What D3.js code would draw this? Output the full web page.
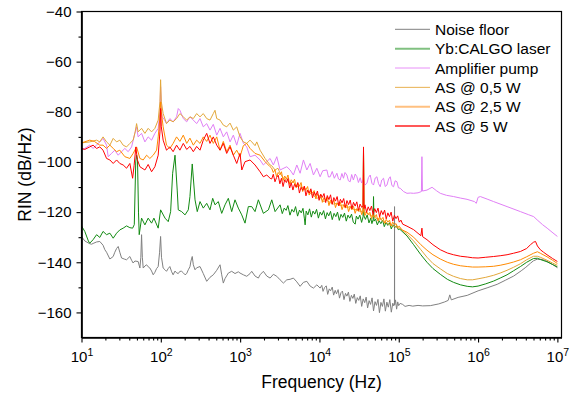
<!DOCTYPE html>
<html><head><meta charset="utf-8">
<script src="https://cdn.jsdelivr.net/npm/d3@7"></script>
<style>body{margin:0;background:#fff}svg{display:block}text{font-family:"Liberation Sans",Arial,sans-serif}</style>
</head><body><svg id="c" width="582" height="397"></svg>
<script>
// ---- DATA (frequency Hz, RIN dB/Hz) ----
const seriesNames = ["Noise floor","Yb:CALGO laser","Amplifier pump","AS @ 0,5 W","AS @ 2,5 W","AS @ 5 W"];
const seriesColors = ["#808080","#128a12","#e07ff5","#e2a73a","#ff8a00","#ff0000"];
const legendColors = ["#808080","#80c080","#e890f8","#e8b050","#ffc080","#ff2020"];
const legendWidths = [1,2,1,1,2,1.5];
const yTicks = [-160,-140,-120,-100,-80,-60,-40];
const yMinorTicks = [-150,-130,-110,-90,-70,-50];
const xTickExps = [1,2,3,4,5,6,7];

const noiseFloor = [[10,-129.7],[11,-131.5],[12.7,-132.6],[13.4,-132.8],[14,-132.5],[15.5,-131.9],[17,-131.7],[18.7,-133.2],[19.7,-135],[20.7,-136],[22.8,-138.7],[25.1,-137.7],[26.3,-136],[27.7,-134.5],[29,-133.7],[30.4,-136],[32,-138.3],[35.2,-138.8],[37,-139],[40.7,-137.7],[42.8,-139.2],[44.8,-140.3],[47.1,-139.5],[51.8,-139.7],[54.5,-142.3],[56,-138],[57.2,-129],[58.5,-138],[60,-142.3],[63,-141.5],[66.2,-141],[69.3,-141.8],[72.8,-142.3],[76.5,-143.5],[80.2,-145],[84.2,-144],[88.5,-142.5],[92.7,-141.7],[96.5,-136],[99.4,-129.7],[102,-138],[107,-142.3],[113,-143],[118,-143.6],[124,-142.5],[130,-141.7],[137,-143.8],[143,-145],[151,-143.5],[158,-144.2],[166,-144.5],[174,-143.6],[183,-143.6],[192,-144.2],[202,-145],[212,-144.5],[222,-143],[233,-141.8],[240,-139.5],[249,-137.7],[257,-141],[270,-143],[283,-142.2],[312,-141.7],[343,-144.5],[379,-147.6],[417,-146],[459,-145],[507,-143.2],[558,-141],[586,-145],[614,-148.3],[645,-146.5],[710,-144.3],[783,-143.6],[862,-144.5],[949,-143.8],[997,-144.3],[1098,-145],[1212,-145.6],[1334,-144.5],[1401,-143.6],[1542,-145.5],[1698,-146.3],[1784,-145],[1963,-143.6],[2168,-145.5],[2386,-146.3],[2626,-144.8],[2899,-145.6],[3190,-147],[3512,-148.3],[3876,-147],[4267,-146.8],[4696,-146.3],[5183,-147.8],[5706,-149.6],[6281,-148],[6934,-147.6],[7631,-149.5],[8401,-150.3],[9273,-149],
[10200,-150.3],[10700,-149.2],[11100,-151.6],[11600,-150.1],[12200,-149.4],[12700,-152.8],[13300,-150.6],[13800,-151.4],[14500,-149.9],[15100,-153.1],[15800,-151.2],[16400,-152.6],[17200,-150.9],[17900,-154.3],[18700,-152.1],[19500,-151.5],[20400,-154.9],[21300,-152.4],[22200,-153.5],[23200,-151.9],[24200,-155.6],[25300,-153.2],[26400,-154.4],[27500,-152.7],[28700,-156.4],[30000,-154.1],[31300,-155.2],[32700,-153.4],[34100,-157.6],[35600,-154.6],[37200,-156.1],[38800,-153.9],[40500,-158.2],[42300,-155.3],[44100,-156.8],[46100,-154.2],[48100,-159.4],[50200,-155.7],[52400,-157.2],[54700,-154.8],[57100,-160.1],[59600,-156],[62200,-157.6],[65000,-154.6],[67800,-159.5],[70800,-155.9],[73900,-157.9],[77200,-154.9],[80600,-159.9],[84100,-156.3],[86500,-157.4],[88300,-156.5],[88500,-117.8],[88700,-157],[91000,-155],[94000,-158.7],[97000,-155.8],[99700,-157.3],[104000,-156.4],[112000,-156.8],[120000,-157.6],[135000,-157.2],[150000,-157.5],[175000,-157.2],[200000,-157.4],[250000,-157.3],[320000,-156.6],[380000,-155.8],[420000,-155.2],[440000,-153],[460000,-155],[560000,-154],[730000,-153.2],[1000000,-151.4],[1300000,-150.2],[1740000,-148.8],[2200000,-147.2],[2810000,-145.5],[3500000,-143.4],[4000000,-142],[4570000,-140.4],[5000000,-139.4],[5560000,-138.8],[6200000,-138.8],[7080000,-139.3],[8200000,-140.4],[9000000,-141.2],[10000000,-142.2]];

const ybCalgo = [[10,-125.5],[11,-127.7],[12.2,-131.5],[12.7,-132.4],[14,-131],[15.5,-129],[17,-130.1],[18.7,-127.7],[20.7,-129],[22.8,-128.4],[25.1,-130.4],[27.7,-128.4],[30.4,-127.1],[33.5,-126.4],[37,-125.5],[40.7,-126.2],[44.1,-126.4],[46.3,-125],[48.3,-100],[49.5,-97.3],[50.8,-99],[52.3,-120],[53.4,-129],[57.2,-122.4],[63,-125.1],[69.3,-122.4],[76.5,-124.4],[81.8,-122.4],[92.7,-126.4],[99.4,-119.1],[113,-122.4],[124,-123.8],[133,-119.8],[141,-104.5],[151,-97.3],[161,-111.2],[166,-119.1],[183,-119.8],[202,-121.1],[222,-119.1],[233,-113.8],[249,-100.8],[270,-115.1],[288,-119.8],[312,-115.8],[343,-118.4],[379,-116.5],[417,-119.1],[451,-114.5],[482,-117.1],[531,-115.8],[586,-120.5],[645,-117.1],[710,-114.5],[783,-119.8],[862,-115.1],[949,-118.4],[1048,-121.1],[1153,-124.4],[1269,-117.8],[1401,-117.8],[1542,-119.8],[1698,-115.1],[1963,-120.5],[2271,-119.1],[2506,-115.1],[2759,-119.8],[3190,-117.1],[3400,-120.6],[3600,-118.4],[3800,-119.3],[4000,-117.4],[4250,-121.2],[4500,-118.9],[4750,-120],[5000,-117.8],[5300,-121.6],[5600,-119.2],[5900,-120.3],[6200,-118.5],[6450,-122.4],[6600,-125.1],[6800,-119.6],[7150,-121.1],[7500,-118.7],[7900,-122],[8300,-119.6],[8750,-120.8],[9200,-118.9],[9700,-122.4],[10200,-120],[10700,-121.2],[11300,-119.4],[11900,-122.7],[12500,-120.2],[13100,-121.5],[13800,-119.7],[14500,-123],[15300,-120.5],[16100,-121.8],[16900,-120],[17800,-123.3],[18700,-120.9],[19700,-122.1],[20700,-120.4],[21800,-123.6],[22900,-121.2],[24100,-122.4],[25400,-120.8],[26700,-124],[28240,-124.8],[29200,-121.6],[30700,-122.8],[32300,-121.2],[34000,-124.1],[35500,-121.8],[35940,-95.3],[36400,-121.5],[38000,-122.9],[40000,-121.1],[42100,-124.3],[44300,-122.4],[45870,-124.6],[47500,-123],[48070,-113.8],[48700,-123.6],[51000,-122.8],[53700,-125.1],[56500,-123.4],[59400,-124.6],[62500,-123.2],[65700,-125.8],[69100,-124.1],[72700,-125.3],[76500,-124.2],[80500,-126.7],[84700,-125],[89100,-126.1],[93700,-125.4],[98600,-127],[103000,-126.8],[127000,-129.5],[154000,-133],[190000,-137],[227000,-140],[270000,-142.5],[334000,-144.8],[410000,-146.8],[490000,-148],[600000,-149],[730000,-149.6],[850000,-149.8],[1000000,-149.5],[1250000,-148.6],[1570000,-147.5],[1900000,-146.3],[2320000,-145],[2800000,-143.4],[3420000,-141.7],[4100000,-140],[5000000,-138.5],[5600000,-138.4],[6100000,-138.9],[7400000,-139.8],[8700000,-140.9],[10000000,-141.8]];

const ampPump = [[10,-95.3],[11,-94.6],[12.7,-93.3],[14,-94.6],[15.5,-93.3],[17,-92],[18.7,-90.6],[20.7,-93.3],[21.7,-97.9],[23.9,-96.6],[26.3,-95.3],[29,-97.3],[32,-95.9],[35.2,-94.6],[38.8,-95.9],[42.8,-94],[47.1,-88.6],[49.5,-86],[51.8,-90],[57.2,-88.6],[63,-92],[69.3,-90],[76.5,-91.3],[84.2,-88.6],[92.7,-86.6],[97.5,-80],[99.4,-70],[101.5,-79],[104,-82],[110,-83],[118,-84.7],[130,-82.7],[143,-84],[158,-82],[166,-78.7],[174,-79.4],[192,-82.7],[212,-84],[233,-82],[257,-83.3],[283,-84.7],[312,-82.7],[343,-86],[379,-84.7],[417,-87.3],[459,-85],[507,-89.3],[558,-86.6],[614,-90],[677,-88],[746,-92],[821,-89.3],[906,-93.3],[997,-88.6],[1098,-92.5],[1212,-94],[1334,-97.9],[1542,-97.3],[1784,-99.2],[1963,-101.2],[2386,-98.6],[2626,-101.2],[2899,-97.9],[3190,-103.2],[3876,-101.9],[4267,-103.2],[4696,-105.2],[5183,-101.2],[5706,-104.5],[6281,-99.2],[6934,-103.2],[7631,-100.6],[8401,-105.2],[9273,-102.5],[10204,-105.9],[11000,-103.5],[12400,-103.2],[13000,-106],[13650,-105.9],[14500,-103.8],[15400,-106.5],[16590,-104.5],[17400,-106.8],[18260,-107.2],[19200,-104.6],[20090,-106.5],[21000,-104.2],[22180,-105.2],[23200,-107.5],[24410,-107.9],[25500,-105],[26800,-107.2],[28240,-104.8],[29670,-105.9],[31000,-108.2],[32660,-106.3],[34000,-108.4],[35940,-106.8],[37500,-109.2],[39670,-108.5],[41500,-106.2],[43680,-105.2],[45870,-108.5],[48070,-109.2],[50500,-106.4],[53060,-105.9],[55500,-108.6],[58410,-109.9],[61000,-107.2],[64300,-106.5],[67500,-109.8],[70960,-109.2],[74500,-106.8],[78100,-105.9],[82000,-109.4],[85990,-109.9],[90000,-107.5],[94910,-107.9],[99000,-110.3],[104400,-110.5],[115000,-111.8],[126900,-112.5],[140000,-112.4],[154000,-112.5],[175000,-112.3],[193000,-111.8],[196000,-97.9],[199000,-111.6],[227000,-111.2],[263000,-110.1],[300000,-111.5],[334000,-112.5],[400000,-113.3],[492000,-113.8],[600000,-114.4],[726000,-114.9],[900000,-115.8],[950000,-116.5],[1000000,-114.1],[1070000,-113.8],[1300000,-114.8],[1570000,-115.8],[2320000,-117.8],[3420000,-119.8],[4300000,-121],[5030000,-121.8],[5560000,-123.1],[6500000,-125],[7430000,-126.4],[8800000,-128.3],[10000000,-129.7]];

const as05W = [[10,-92.4],[12.7,-92],[15.5,-91.3],[17,-92],[18.7,-90],[20.7,-92],[22.8,-93.3],[25.1,-90.6],[27.7,-92],[30.4,-91.3],[33.5,-93.3],[37,-94],[40.7,-92.6],[44.8,-91.3],[47.5,-88],[49.5,-84.7],[51.8,-88],[57.2,-86.6],[63,-88.6],[69.3,-86.6],[76.5,-88],[84.2,-86.6],[92.7,-83.3],[97.5,-76],[99.4,-67.2],[101.5,-76],[107,-80.7],[118,-84.7],[130,-83.3],[143,-84],[158,-82.7],[174,-80.7],[192,-82],[212,-83.3],[233,-82],[257,-82.7],[283,-80.7],[312,-82],[343,-80.7],[379,-82.7],[417,-83.3],[459,-80.7],[482,-79.4],[507,-82.7],[558,-83.3],[614,-85.3],[677,-86],[746,-84.5],[821,-87.3],[906,-86],[997,-90],[1098,-92],[1212,-92.6],[1334,-91.3],[1401,-92],[1542,-93.5],[1621,-92],[1784,-95.3],[2063,-98.6],[2386,-101.2],[2500,-101.5],[2759,-103.2],[3000,-102.5],[3190,-104.5],[3512,-106.5],[3876,-107.2],[4267,-108.5],[4700,-108],[5183,-109.9],[5706,-109.5],[6281,-110.5],[6900,-111.6],[7631,-112.5],[8400,-113.3],[9273,-114.5],[10200,-114],[11230,-115.8],[12400,-115.3],[13650,-116.2],[15000,-116.8],[16590,-116.5],[18300,-117.4],[20090,-117.1],[22200,-118.2],[24410,-117.8],[27000,-118.9],[29670,-119.1],[33000,-119.8],[35500,-119.5],[35940,-96],[36400,-119.8],[39670,-120.3],[43700,-121.3],[48070,-121.8],[53000,-122.6],[58410,-122.8],[64300,-123.8],[70960,-124.4],[78100,-125.2],[85990,-125.5],[95000,-126.2],[104400,-126.5],[127000,-128.8],[154000,-131.5],[190000,-135],[227000,-138],[270000,-140.5],[334000,-142.6],[410000,-144.5],[490000,-145.6],[600000,-146.5],[730000,-147],[850000,-147],[1000000,-146.6],[1250000,-146],[1570000,-145.2],[1900000,-144.3],[2320000,-143.2],[2800000,-142],[3420000,-140.6],[4100000,-139],[5000000,-137.6],[5600000,-137.6],[6100000,-138],[7400000,-139.2],[8700000,-140.3],[10000000,-141.2]];

const as25W = [[10,-92.4],[12.7,-91.3],[14.5,-91.8],[17,-93.3],[18.7,-93.3],[20.7,-94.6],[22.8,-93.3],[25.1,-94.6],[27.7,-95.9],[30.4,-95.3],[35.2,-97.9],[40.7,-98.6],[44.8,-96.6],[49.5,-94],[54.5,-98.6],[60,-99.2],[66.2,-97.3],[72.8,-98.6],[80.2,-97.3],[88.5,-95.3],[92.7,-90],[97.5,-82],[99.4,-76],[101.5,-80],[107,-86],[118,-93.3],[130,-94.6],[143,-92.6],[158,-90],[174,-91.8],[192,-89.3],[212,-92.6],[233,-90.5],[257,-93.3],[283,-91.3],[312,-92.6],[343,-90],[379,-91.8],[417,-89.3],[459,-92.6],[507,-90],[558,-95.3],[614,-91.8],[677,-95.9],[746,-93.3],[821,-97.3],[906,-95.3],[997,-97.9],[1098,-93.5],[1212,-92.6],[1334,-94.6],[1542,-96.6],[1784,-97.3],[2063,-99.9],[2386,-101.9],[2500,-102.5],[2620,-104.2],[2750,-103.1],[2880,-105.9],[3020,-104.2],[3170,-105.1],[3320,-103.9],[3480,-107.4],[3650,-105.6],[3830,-106.8],[4010,-105.2],[4210,-108.9],[4410,-107.1],[4630,-108.2],[4850,-106.9],[5090,-110.3],[5330,-108.4],[5590,-109.6],[5870,-108.2],[6150,-111.8],[6450,-110],[6760,-111.1],[7090,-109.8],[7430,-113.2],[7800,-111.3],[8180,-112.5],[8580,-111.4],[9000,-114.7],[9440,-112.7],[9900,-113.9],[10380,-112.9],[10890,-116.1],[11420,-114.2],[11980,-115.3],[12560,-114],[13170,-117.4],[13810,-115.3],[14490,-116.5],[15190,-115.2],[15930,-118.2],[16710,-116.3],[17520,-117.5],[18380,-116.1],[19270,-119],[20210,-117.1],[21200,-118.4],[22230,-117],[23310,-119.8],[24450,-117.8],[25640,-119.1],[26890,-117.7],[28200,-120.5],[29580,-118.6],[31020,-119.7],[32530,-118.4],[34120,-121],[35500,-119.5],[35940,-95.9],[36400,-119.8],[37500,-121.3],[39300,-119.9],[41200,-121],[43200,-120.1],[45300,-122.6],[47500,-120.8],[49800,-122],[52200,-121],[54800,-123.6],[57400,-121.9],[60200,-123],[63200,-122.1],[66300,-124.5],[69500,-122.9],[72900,-124],[76400,-123.2],[80100,-125.4],[84000,-124],[88100,-125],[92400,-124.6],[96900,-126.1],[101600,-125.6],[106500,-126.6],[112000,-127.2],[127000,-128],[154000,-130],[190000,-133],[227000,-135.2],[270000,-137],[334000,-138.7],[410000,-140],[490000,-140.8],[600000,-141.4],[730000,-141.7],[850000,-141.9],[1000000,-141.9],[1250000,-141.8],[1570000,-141.6],[1900000,-141.2],[2320000,-140.6],[2800000,-139.9],[3420000,-139],[4100000,-137.8],[5000000,-136.4],[5600000,-135.8],[6100000,-136.4],[7400000,-137.8],[8700000,-139.2],[10000000,-140.5]];

const as5W = [[10,-94.6],[11,-95],[12.7,-94],[14,-93.3],[15.5,-94.6],[17,-94],[18.7,-95.3],[20.7,-98.6],[22.8,-99.2],[25.1,-100.6],[27.7,-99.2],[30.4,-100.6],[33.5,-101.2],[37,-102.5],[40.7,-100.6],[44.1,-106.5],[46,-101.5],[48.5,-94],[50.5,-99],[54.5,-101.9],[63,-103.2],[69.3,-101],[76.5,-103.9],[84.2,-101.9],[92.7,-97.3],[97.5,-88],[99.4,-78.7],[101.5,-86],[107,-91.3],[118,-95.3],[130,-94],[143,-95.9],[158,-93.3],[174,-95.3],[192,-92.6],[212,-95],[233,-93.8],[257,-95.9],[283,-93.8],[312,-95.3],[343,-91.3],[379,-88.6],[417,-92.6],[459,-90],[507,-93.3],[558,-95.3],[614,-92.6],[677,-96.6],[746,-94],[821,-97.3],[906,-100.6],[997,-96.6],[1050,-103.2],[1153,-99.9],[1334,-99.2],[1542,-101.2],[1784,-103.9],[1963,-105.9],[2168,-105.2],[2386,-106.5],[2500,-106.8],[2620,-104.9],[2750,-107.9],[2880,-106.2],[3020,-105.3],[3170,-108.7],[3320,-106.5],[3480,-109.8],[3650,-107.1],[3830,-108.2],[4010,-106.6],[4210,-110.4],[4410,-108.3],[4630,-111.2],[4850,-108.9],[5090,-110],[5330,-108.2],[5590,-112.4],[5870,-110.1],[6150,-111.3],[6450,-109.6],[6760,-113.5],[7090,-111.2],[7430,-112.4],[7800,-110.7],[8180,-114.3],[8580,-112],[9000,-113.4],[9440,-111.6],[9900,-115.3],[10380,-112.9],[10890,-114.1],[11420,-112.6],[11980,-116.2],[12560,-113.4],[13170,-115],[13810,-113.1],[14490,-116.9],[15190,-114.2],[15930,-115.6],[16710,-113.8],[17520,-117.4],[18380,-114.9],[19270,-116.3],[20210,-114.6],[21200,-118.1],[22230,-115.4],[23310,-117],[24450,-115.2],[25640,-118.7],[26890,-116.1],[28200,-117.6],[29580,-115.9],[31020,-119.3],[32530,-116.8],[34120,-118.1],[35500,-117.4],[35940,-94],[36400,-118.6],[37500,-117.1],[39300,-120.1],[41200,-117.9],[43200,-119.4],[45300,-117.6],[47500,-121],[49800,-118.6],[52200,-120.2],[54800,-118.4],[57400,-121.9],[60200,-119.4],[63200,-121],[66300,-119.2],[69500,-122.7],[72900,-120.3],[76400,-121.8],[80100,-120],[84000,-123.6],[88100,-121.3],[92400,-122.6],[96900,-121.5],[101600,-124],[106500,-123.2],[112000,-124.8],[127000,-125.6],[154000,-127],[190000,-129.4],[196000,-126.4],[200000,-129.8],[227000,-131],[270000,-133],[334000,-135],[410000,-136.3],[490000,-137],[600000,-137.6],[730000,-137.9],[850000,-138.2],[1000000,-138.3],[1250000,-138],[1570000,-137.7],[1900000,-137.4],[2320000,-137],[2800000,-136.4],[3420000,-135.7],[4100000,-134.5],[4580000,-133],[5000000,-132],[5300000,-131.7],[5600000,-133.5],[6100000,-135],[6700000,-136],[7400000,-137],[8700000,-138.5],[10000000,-139.7]];

const seriesData = [noiseFloor, ybCalgo, ampPump, as05W, as25W, as5W];

// ---- CHART ----
const svg = d3.select("#c");
svg.append("rect").attr("width",582).attr("height",397).attr("fill","#fff");
const L = 81.5, R = 561.5, T = 11.5, B = 337.5;
const x = d3.scaleLog().domain([10, 1.127e7]).range([L, R]);
const y = d3.scaleLinear().domain([-170, -40]).range([B, T]);

svg.append("clipPath").attr("id","clip").append("rect")
  .attr("x",L).attr("y",T).attr("width",R-L).attr("height",B-T);

const line = d3.line().x(d => x(d[0])).y(d => y(d[1]));
const plot = svg.append("g").attr("clip-path","url(#clip)");
seriesData.forEach((s,i) => {
  plot.append("path").datum(s).attr("d", line)
    .attr("fill","none").attr("stroke", seriesColors[i])
    .attr("stroke-width", 1).attr("stroke-linejoin","round");
});

// frame
svg.append("rect").attr("x",L).attr("y",T).attr("width",R-L).attr("height",B-T)
  .attr("fill","none").attr("stroke","#000").attr("stroke-width",1.2);

// Y axis
const yAxis = svg.append("g").attr("transform",`translate(${L},0)`)
  .call(d3.axisLeft(y).tickValues(yTicks).tickSize(5).tickSizeOuter(0).tickPadding(5));
svg.append("g").attr("transform",`translate(${L},0)`)
  .call(d3.axisLeft(y).tickValues(yMinorTicks).tickSize(3).tickSizeOuter(0).tickFormat(""));

// X axis
const majors = xTickExps.map(e => Math.pow(10, e));
const minors = [];
for (let e = 1; e < 7; e++) for (let k = 2; k <= 9; k++) minors.push(k * Math.pow(10, e));
const xAxis = svg.append("g").attr("transform",`translate(0,${B})`)
  .call(d3.axisBottom(x).tickValues(majors).tickSize(5).tickSizeOuter(0).tickFormat(""));
svg.append("g").attr("transform",`translate(0,${B})`)
  .call(d3.axisBottom(x).tickValues(minors).tickSize(3).tickSizeOuter(0).tickFormat(""));

svg.selectAll(".domain").attr("stroke-width",1.2);
svg.selectAll(".tick line").attr("stroke-width",1.1);

yAxis.selectAll(".tick text").attr("font-size","15px").attr("fill","#000")
  .attr("font-family",'"Liberation Sans",Arial,sans-serif');

xAxis.selectAll(".tick").each(function(d){
  const t = d3.select(this).select("text").text(null)
    .attr("y", 24.5).attr("dy", null).attr("font-size","15px").attr("fill","#000")
    .attr("font-family",'"Liberation Sans",Arial,sans-serif');
  t.append("tspan").text("10");
  t.append("tspan").attr("dy", -6).attr("font-size","10.5px").text(Math.round(Math.log10(d)));
});

// axis titles
svg.append("text").attr("x",(L+R)/2).attr("y",387.5).attr("text-anchor","middle")
  .attr("font-size","17.5px").attr("fill","#000").text("Frequency (Hz)");
svg.append("text").attr("transform",`translate(30.5,${(T+B)/2}) rotate(-90)`)
  .attr("text-anchor","middle").attr("font-size","17.5px").attr("fill","#000").text("RIN (dB/Hz)");

// legend
const lg = svg.append("g");
seriesNames.forEach((n,i) => {
  const yy = 29.3 + i * 19.35;
  lg.append("line").attr("x1",395).attr("x2",430).attr("y1",yy).attr("y2",yy)
    .attr("stroke",legendColors[i]).attr("stroke-width",legendWidths[i]);
  lg.append("text").attr("x",435).attr("y",yy).attr("dy","0.36em")
    .attr("font-size","15.5px").attr("fill","#000").text(n);
});
</script></body></html>
